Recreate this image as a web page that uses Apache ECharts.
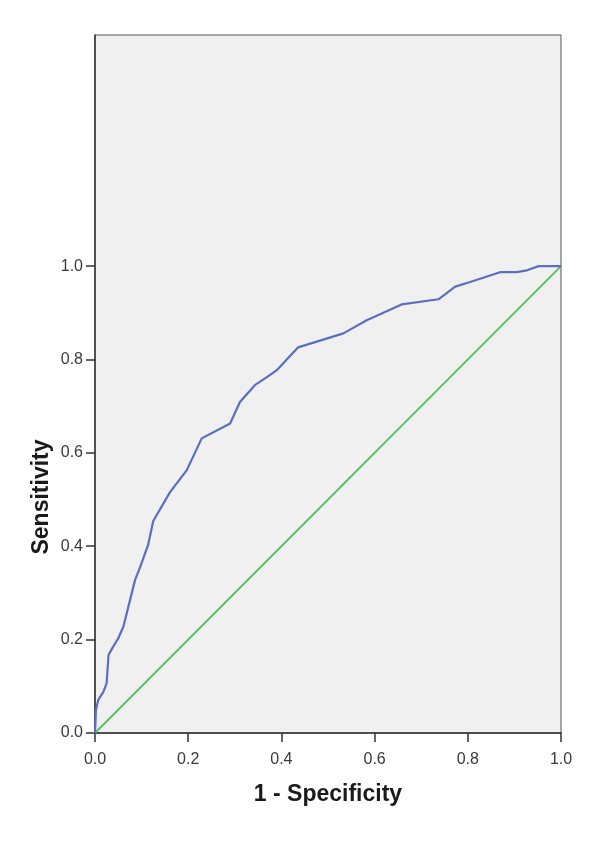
<!DOCTYPE html>
<html>
<head>
<meta charset="utf-8">
<script src="https://cdn.jsdelivr.net/npm/echarts@6/dist/echarts.min.js"></script>
<style>
  html, body { margin: 0; padding: 0; background: #fff; }
  #container { width: 600px; height: 849px; }
</style>
</head>
<body>
<div id="container"></div>
<script>
'use strict';

// ROC curve points
let fpr = [0, 0.002, 0.007, 0.018, 0.025, 0.029, 0.039, 0.050, 0.061, 0.086, 0.097, 0.114, 0.125,
  0.161, 0.197, 0.229, 0.290, 0.311, 0.343, 0.376, 0.390, 0.436, 0.533, 0.583, 0.658, 0.737,
  0.773, 0.805, 0.869, 0.905, 0.927, 0.952, 1.0];
let tpr = [0, 0.049, 0.071, 0.088, 0.107, 0.167, 0.185, 0.203, 0.228, 0.328, 0.356, 0.403, 0.454,
  0.516, 0.563, 0.631, 0.663, 0.709, 0.745, 0.767, 0.777, 0.826, 0.856, 0.884, 0.918, 0.929,
  0.956, 0.966, 0.987, 0.987, 0.991, 1.0, 1.0];
let refX = [0, 1];
let refY = [0, 1];
let xTicks = [0, 0.2, 0.4, 0.6, 0.8, 1.0];
let yTicks = [0, 0.2, 0.4, 0.6, 0.8, 1.0];

function pairs(xs, ys) {
  return xs.map(function(x, i) { return [x, ys[i]]; });
}

var dom = document.getElementById('container');
var myChart = echarts.init(dom, null, { renderer: 'canvas' });

var labelStyle = {
  color: '#3a3a3a',
  fontFamily: 'Liberation Sans, Arial, sans-serif',
  fontSize: 16,
  formatter: function(v) { return v.toFixed(1); }
};

myChart.setOption({
  animation: false,
  backgroundColor: '#fff',
  grid: {
    left: 95, right: 39, top: 35, bottom: 116,
    show: true,
    backgroundColor: '#f0f0f0',
    borderColor: '#555',
    borderWidth: 1
  },
  xAxis: {
    type: 'value',
    min: 0, max: 1,
    axisLine: { show: true, onZero: false, lineStyle: { color: '#333', width: 1.5 } },
    axisTick: { show: true, length: 9, customValues: xTicks, lineStyle: { color: '#333', width: 1.5 } },
    axisLabel: Object.assign({ customValues: xTicks, margin: 19 }, labelStyle),
    splitLine: { show: false },
    name: '1 - Specificity',
    nameLocation: 'middle',
    nameGap: 50,
    nameTextStyle: { color: '#1a1a1a', fontSize: 23, fontWeight: 'bold', fontFamily: 'Liberation Sans, Arial, sans-serif' }
  },
  yAxis: {
    type: 'value',
    min: 0, max: 1.495,
    axisLine: { show: true, onZero: false, lineStyle: { color: '#333', width: 1.5 } },
    axisTick: { show: true, length: 9, customValues: yTicks, lineStyle: { color: '#333', width: 1.5 } },
    axisLabel: Object.assign({ customValues: yTicks, margin: 12 }, labelStyle),
    splitLine: { show: false }
  },
  graphic: [{
    type: 'text',
    x: 42, y: 497,
    rotation: Math.PI / 2,
    style: {
      text: 'Sensitivity',
      fill: '#1a1a1a',
      font: 'bold 23px "Liberation Sans", Arial, sans-serif',
      align: 'center',
      verticalAlign: 'middle'
    }
  }],
  series: [{
    type: 'line',
    data: pairs(refX, refY),
    showSymbol: false,
    lineStyle: { color: '#52c15a', width: 1.8 },
    z: 2
  }, {
    type: 'line',
    data: pairs(fpr, tpr),
    showSymbol: false,
    lineStyle: { color: '#5a6fc0', width: 2.2 },
    z: 3
  }]
});
</script>
</body>
</html>
